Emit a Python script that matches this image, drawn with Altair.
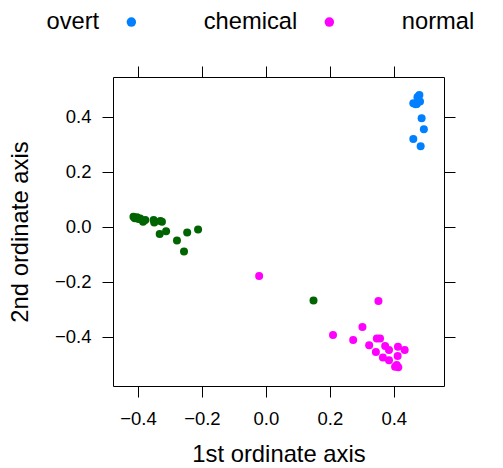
import altair as alt
import pandas as pd

groups = ["overt", "chemical", "normal"]
colors = ["#0080ff", "#ff00ff", "#006400"]

overt_x = [0.480, 0.474, 0.461, 0.472, 0.482, 0.487, 0.494, 0.461, 0.484, 0.476, 0.468]
overt_y = [0.479, 0.470, 0.449, 0.446, 0.455, 0.394, 0.354, 0.319, 0.292, 0.472, 0.445]

chem_x = [-0.021, 0.352, 0.302, 0.210, 0.273, 0.347, 0.357, 0.323, 0.344, 0.373,
          0.385, 0.366, 0.385, 0.413, 0.434, 0.412, 0.409, 0.414, 0.404]
chem_y = [-0.179, -0.270, -0.365, -0.394, -0.412, -0.406, -0.406, -0.431, -0.455, -0.434,
          -0.448, -0.475, -0.485, -0.436, -0.448, -0.470, -0.503, -0.511, -0.509]

norm_x = [-0.414, -0.403, -0.393, -0.384, -0.377, -0.351, -0.349, -0.330, -0.325,
          -0.332, -0.312, -0.278, -0.246, -0.212, -0.256, 0.149, -0.410, -0.398]
norm_y = [0.036, 0.034, 0.030, 0.018, 0.024, 0.024, 0.015, 0.021, 0.018,
          -0.027, -0.017, -0.050, -0.021, -0.010, -0.090, -0.268, 0.031, 0.028]

tick_vals = [-0.4, -0.2, 0.0, 0.2, 0.4]

rows = []
for g, xs, ys in [("overt", overt_x, overt_y), ("chemical", chem_x, chem_y), ("normal", norm_x, norm_y)]:
    for a, b in zip(xs, ys):
        rows.append({"x": a, "y": b, "group": g})
df = pd.DataFrame(rows)

FONT = "Liberation Sans"
xscale = alt.Scale(domain=[-0.478, 0.557], nice=False, zero=False)
yscale = alt.Scale(domain=[-0.579, 0.544], nice=False, zero=False)

common = dict(values=tick_vals, tickSize=11, tickColor="black", tickWidth=1,
              domain=False, grid=False, labelFont=FONT, labelFontSize=18.5,
              labelColor="black", titleFont=FONT, titleFontSize=23.8,
              titleColor="black", titleFontWeight="normal")

points = alt.Chart(df).mark_circle(size=64, opacity=1).encode(
    x=alt.X("x:Q", scale=xscale,
            axis=alt.Axis(orient="bottom", title="1st ordinate axis",
                          labelPadding=12, titlePadding=15, **common)),
    y=alt.Y("y:Q", scale=yscale,
            axis=alt.Axis(orient="left", title="2nd ordinate axis",
                          labelPadding=11, titlePadding=22, **common)),
    color=alt.Color("group:N", scale=alt.Scale(domain=groups, range=colors),
                    legend=alt.Legend(title=None, orient="none", legendX=6.5, legendY=-67,
                                      direction="horizontal", labelFont=FONT,
                                      labelFontSize=23.7, labelColor="black",
                                      labelAlign="right", labelOffset={"expr": "-44"},
                                      columnPadding=67, symbolType="circle",
                                      symbolSize=90, symbolStrokeWidth=0,
                                      padding=0)),
)

frame = alt.Chart(df).mark_circle(opacity=0).encode(
    x=alt.X("x:Q", scale=xscale,
            axis=alt.Axis(orient="top", title=None, labels=False, **common)),
    y=alt.Y("y:Q", scale=yscale,
            axis=alt.Axis(orient="right", title=None, labels=False, **common)),
)

chart = alt.layer(points, frame).resolve_axis(x="independent", y="independent").properties(
    width=331, height=309,
    autosize=alt.AutoSizeParams(type="none"),
    padding={"left": 105, "top": 69, "right": 51, "bottom": 80},
).configure_view(stroke="black", strokeWidth=1)

chart.save("out.html", embed_options={"renderer": "svg", "actions": False})
